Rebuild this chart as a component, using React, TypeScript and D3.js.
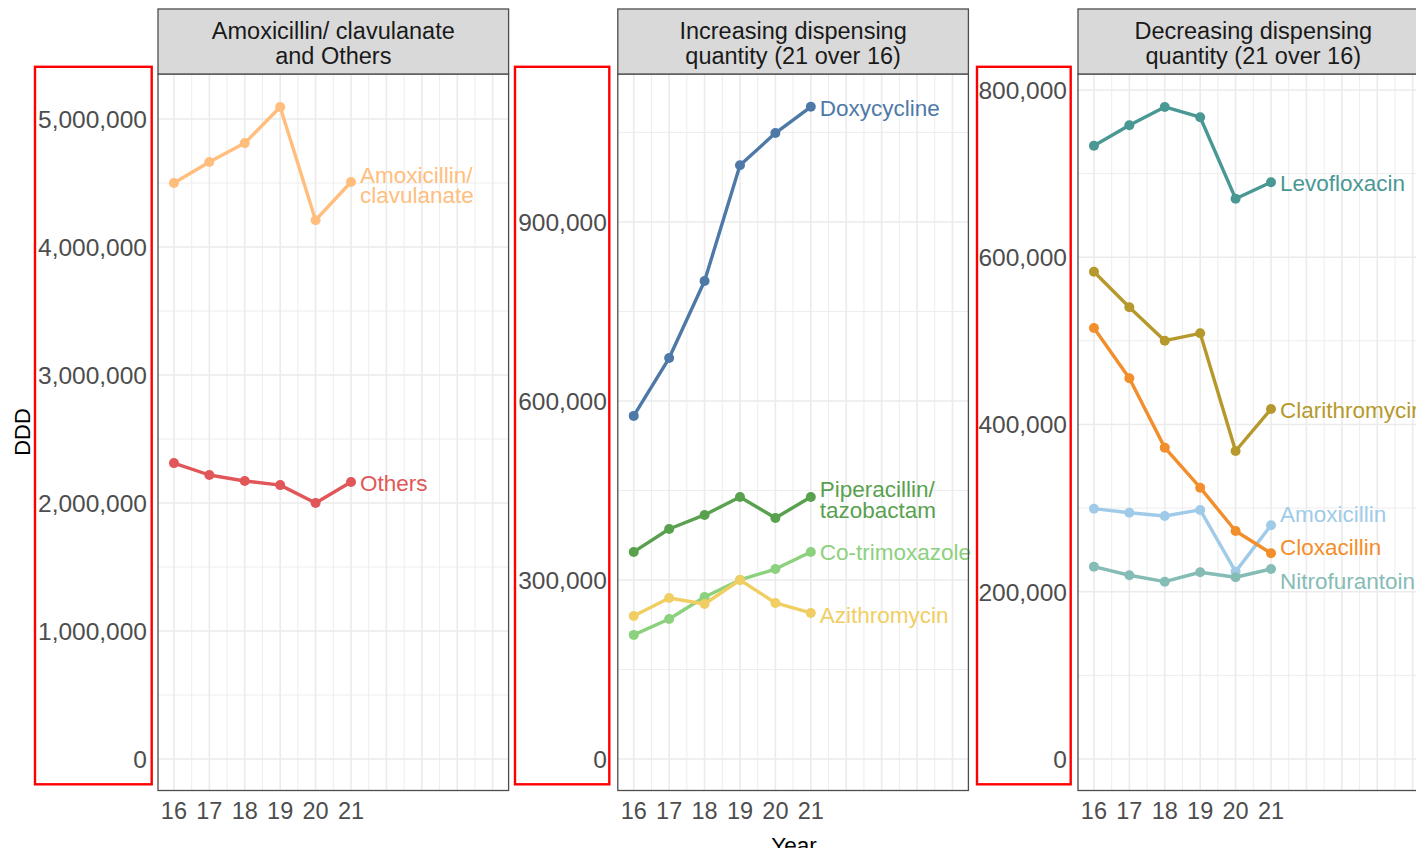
import React from "react";
import * as d3 from "d3";

const years = [16, 17, 18, 19, 20, 21];
const xBreaks = [16, 17, 18, 19, 20, 21, 22, 23, 24, 25];
const xMinor = [16.5, 17.5, 18.5, 19.5, 20.5, 21.5, 22.5, 23.5, 24.5];
const xTickLabels = ["16", "17", "18", "19", "20", "21"];

// Panel 1
const amoxClav = [4500000, 4664000, 4812000, 5094000, 4210000, 4508000];
const others = [2312000, 2219000, 2172000, 2140000, 2000000, 2164000];
// Panel 2
const doxycycline = [575000, 672000, 801000, 995000, 1049000, 1093000];
const piperacillin = [347000, 385500, 409000, 439000, 404000, 439000];
const coTrimoxazole = [208000, 234600, 271500, 300000, 318400, 347000];
const azithromycin = [239700, 269800, 259800, 300000, 261500, 244700];
// Panel 3
const levofloxacin = [733400, 757800, 779700, 767400, 670000, 689600];
const clarithromycin = [582700, 540200, 500200, 509000, 368300, 418500];
const cloxacillin = [515400, 455200, 372300, 324400, 272600, 246000];
const amoxicillin = [299300, 294500, 290600, 297800, 224000, 279500];
const nitrofurantoin = [230000, 219700, 212000, 223300, 217300, 227200];

// label vertical positions (data units, after repel)
const labelY1 = [4484000, 2156000];
const labelY2 = [1091000, 435000, 347000, 241300];
const labelY3 = [688800, 417300, 293000, 253500, 212900];

const panelTitles = [
  ["Amoxicillin/ clavulanate", "and Others"],
  ["Increasing dispensing", "quantity (21 over 16)"],
  ["Decreasing dispensing", "quantity (21 over 16)"],
];
const yTicks1 = [0, 1000000, 2000000, 3000000, 4000000, 5000000];
const yTicks2 = [0, 300000, 600000, 900000];
const yTicks3 = [0, 200000, 400000, 600000, 800000];
const yMinor1 = [500000, 1500000, 2500000, 3500000, 4500000];
const yMinor2 = [150000, 450000, 750000, 1050000];
const yMinor3 = [100000, 300000, 500000, 700000];
const yDomain1 = [-246000, 5352000];
const yDomain2 = [-52800, 1148000];
const yDomain3 = [-37700, 819100];

type Series = { name: string; values: number[]; color: string; labelY: number };

const panels: { title: string[]; series: Series[]; ticks: number[]; minor: number[]; domain: number[] }[] = [
  {
    title: panelTitles[0],
    ticks: yTicks1,
    minor: yMinor1,
    domain: yDomain1,
    series: [
      { name: "Amoxicillin/\nclavulanate", values: amoxClav, color: "#FFBE7D", labelY: labelY1[0] },
      { name: "Others", values: others, color: "#E15759", labelY: labelY1[1] },
    ],
  },
  {
    title: panelTitles[1],
    ticks: yTicks2,
    minor: yMinor2,
    domain: yDomain2,
    series: [
      { name: "Doxycycline", values: doxycycline, color: "#4E79A7", labelY: labelY2[0] },
      { name: "Piperacillin/\ntazobactam", values: piperacillin, color: "#59A14F", labelY: labelY2[1] },
      { name: "Co-trimoxazole", values: coTrimoxazole, color: "#8CD17D", labelY: labelY2[2] },
      { name: "Azithromycin", values: azithromycin, color: "#F1CE63", labelY: labelY2[3] },
    ],
  },
  {
    title: panelTitles[2],
    ticks: yTicks3,
    minor: yMinor3,
    domain: yDomain3,
    series: [
      { name: "Levofloxacin", values: levofloxacin, color: "#499894", labelY: labelY3[0] },
      { name: "Clarithromycin", values: clarithromycin, color: "#B6992D", labelY: labelY3[1] },
      { name: "Amoxicillin", values: amoxicillin, color: "#A0CBE8", labelY: labelY3[2] },
      { name: "Cloxacillin", values: cloxacillin, color: "#F28E2B", labelY: labelY3[3] },
      { name: "Nitrofurantoin", values: nitrofurantoin, color: "#86BCB6", labelY: labelY3[4] },
    ],
  },
];

const W = 1416;
const H = 848;
const panelLefts = [158, 617.8, 1078];
const redBoxLefts = [35, 515, 977];
const redBoxRights = [151.7, 609.3, 1070.7];
const panelW = 350.6;
const stripTop = 9;
const plotTop = 74;
const plotBottom = 790.5;
const FONT = "'Liberation Sans', Arial, sans-serif";
const fmt = d3.format(",");

function Panel({ p, left, idx }: { p: (typeof panels)[number]; left: number; idx: number }) {
  const x = d3.scaleLinear().domain([15.55, 25.45]).range([left, left + panelW]);
  const y = d3.scaleLinear().domain(p.domain).range([plotBottom, plotTop]);
  const line = d3
    .line<number>()
    .x((_, i) => x(years[i]))
    .y((v) => y(v));
  return (
    <g>
      <rect x={left} y={plotTop} width={panelW} height={plotBottom - plotTop} fill="#fff" />
      {xMinor.map((v) => (
        <line key={"xm" + v} x1={x(v)} x2={x(v)} y1={plotTop} y2={plotBottom} stroke="#EBEBEB" strokeWidth={0.9} />
      ))}
      {p.minor.map((v) => (
        <line key={"ym" + v} x1={left} x2={left + panelW} y1={y(v)} y2={y(v)} stroke="#EBEBEB" strokeWidth={0.9} />
      ))}
      {xBreaks.map((v) => (
        <line key={"xM" + v} x1={x(v)} x2={x(v)} y1={plotTop} y2={plotBottom} stroke="#EBEBEB" strokeWidth={1.6} />
      ))}
      {p.ticks.map((v) => (
        <line key={"yM" + v} x1={left} x2={left + panelW} y1={y(v)} y2={y(v)} stroke="#EBEBEB" strokeWidth={1.6} />
      ))}
      {p.series.map((s) => (
        <g key={s.name}>
          <path d={line(s.values) || ""} fill="none" stroke={s.color} strokeWidth={3.4} strokeLinejoin="round" />
          {s.values.map((v, i) => (
            <circle key={i} cx={x(years[i])} cy={y(v)} r={5} fill={s.color} />
          ))}
        </g>
      ))}
      {p.series.map((s) => {
        const lines = s.name.split("\n");
        const lh = 20.5;
        const cy = y(s.labelY) - ((lines.length - 1) * lh) / 2;
        return (
          <text key={"l" + s.name} fill={s.color} fontSize={22.5} fontFamily={FONT}>
            {lines.map((ln, j) => (
              <tspan key={j} x={x(21) + 9} y={cy + j * lh} dy="0.36em">
                {ln}
              </tspan>
            ))}
          </text>
        );
      })}
      <rect x={left} y={plotTop} width={panelW} height={plotBottom - plotTop} fill="none" stroke="#4D4D4D" strokeWidth={1.3} />
      <rect x={left} y={stripTop} width={panelW} height={plotTop - stripTop} fill="#D9D9D9" stroke="#4D4D4D" strokeWidth={1.3} />
      {p.title.map((t, j) => (
        <text key={t} x={left + panelW / 2} y={31 + j * 24.5} dy="0.36em" textAnchor="middle" fontSize={23.5} fontFamily={FONT} fill="#1A1A1A">
          {t}
        </text>
      ))}
      {p.ticks.map((v) => (
        <text key={"yt" + v} x={left - 11} y={y(v)} dy="0.36em" textAnchor="end" fontSize={24.5} fontFamily={FONT} fill="#4D4D4D">
          {fmt(v)}
        </text>
      ))}
      {xTickLabels.map((t) => (
        <text key={"xt" + t} x={x(+t)} y={811} dy="0.36em" textAnchor="middle" fontSize={23.5} fontFamily={FONT} fill="#4D4D4D">
          {t}
        </text>
      ))}
      <rect
        x={redBoxLefts[idx]}
        y={66.8}
        width={redBoxRights[idx] - redBoxLefts[idx]}
        height={717.5}
        fill="none"
        stroke="#FF0000"
        strokeWidth={2.4}
      />
    </g>
  );
}

export default function App() {
  return (
    <svg width={W} height={H} style={{ position: "absolute", left: 0, top: 0, background: "#fff" }}>
      <rect x={0} y={0} width={W} height={H} fill="#fff" />
      {panels.map((p, i) => (
        <Panel key={i} p={p} left={panelLefts[i]} idx={i} />
      ))}
      <text x={22} y={432} transform="rotate(-90 22 432)" dy="0.36em" textAnchor="middle" fontSize={22} fontFamily={FONT} fill="#000">
        DDD
      </text>
      <text x={794} y={853} textAnchor="middle" fontSize={22.5} fontFamily={FONT} fill="#000">
        Year
      </text>
    </svg>
  );
}
